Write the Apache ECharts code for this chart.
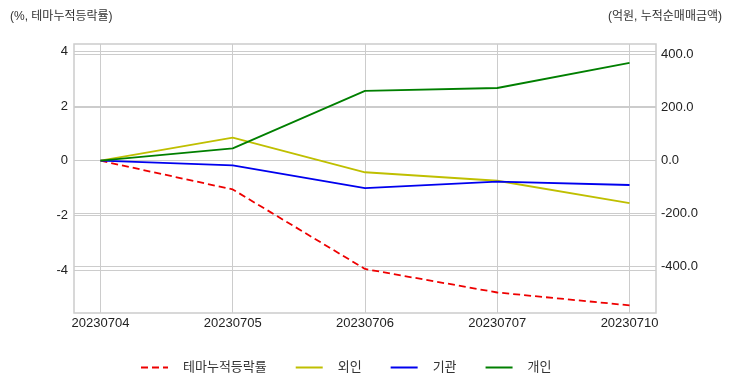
<!DOCTYPE html>
<html>
<head>
<meta charset="utf-8">
<script src="https://cdn.jsdelivr.net/npm/echarts@6/dist/echarts.min.js"></script>
<style>
html,body{margin:0;padding:0;background:#fff;}
#c{width:732px;height:392px;}
</style>
</head>
<body>
<div id="c"></div>
<script>
const dates = ['20230704', '20230705', '20230706', '20230707', '20230710'];
const themeRate = [0, -1.05, -3.96, -4.82, -5.29];
const foreign = [0, 87, -44, -76, -160];
const institution = [0, -18, -104, -79, -92];
const individual = [0, 46, 263, 274, 369];
const leftTicks = [-4, -2, 0, 2, 4];
const rightTicks = [-400, -200, 0, 200, 400];
const leftName = '(%, 테마누적등락률)';
const rightName = '(억원, 누적순매매금액)';

const FONT = '"Liberation Sans", "Noto Sans CJK KR", sans-serif';
const xIdx = dates.map((d, i) => i);
const pairs = arr => arr.map((v, i) => [i, v]);

const chart = echarts.init(document.getElementById('c'));
chart.setOption({
  animation: false,
  backgroundColor: '#fff',
  textStyle: { fontFamily: FONT },
  title: [
    { text: leftName, left: 5, top: 6, textStyle: { fontSize: 12, fontWeight: 'normal', color: '#333', fontFamily: FONT } },
    { text: rightName, right: 5, top: 6, textStyle: { fontSize: 12, fontWeight: 'normal', color: '#333', fontFamily: FONT } }
  ],
  grid: { left: 74, right: 76, top: 44, bottom: 79, show: true, borderColor: '#cccccc', borderWidth: 1.5, backgroundColor: 'transparent' },
  legend: {
    bottom: 13, left: 135, itemWidth: 27, itemHeight: 10, itemGap: 28,
    itemStyle: { opacity: 0 },
    textStyle: { fontSize: 13, color: '#333', fontFamily: FONT, padding: [0, 0, 0, 10] },
    data: ['테마누적등락률', '외인', '기관', '개인']
  },
  xAxis: {
    type: 'value', min: -0.2, max: 4.2,
    axisLine: { show: false },
    axisTick: { show: false, customValues: xIdx },
    axisLabel: { customValues: xIdx, formatter: v => dates[Math.round(v)], fontSize: 13, color: '#222', margin: 4, fontFamily: FONT },
    splitLine: { show: true, lineStyle: { color: '#cccccc', width: 1 } }
  },
  yAxis: [
    {
      type: 'value', min: -5.57, max: 4.27, position: 'left',
      axisLine: { show: false }, axisTick: { show: false, customValues: leftTicks },
      axisLabel: { customValues: leftTicks, fontSize: 13, color: '#222', margin: 6, fontFamily: FONT },
      splitLine: { show: true, lineStyle: { color: '#cccccc', width: 1 } }
    },
    {
      type: 'value', min: -575, max: 440, position: 'right',
      axisLine: { show: false }, axisTick: { show: false, customValues: rightTicks },
      axisLabel: { customValues: rightTicks, formatter: v => v.toFixed(1), fontSize: 13, color: '#222', margin: 5, fontFamily: FONT },
      splitLine: { show: true, lineStyle: { color: '#cccccc', width: 1 } }
    }
  ],
  series: [
    { name: '테마누적등락률', type: 'line', yAxisIndex: 0, data: pairs(themeRate), symbol: 'none', color: '#ee0000', lineStyle: { color: '#ee0000', width: 1.8, type: [7, 4] } },
    { name: '외인', type: 'line', yAxisIndex: 1, data: pairs(foreign), symbol: 'none', color: '#bfbf00', lineStyle: { color: '#bfbf00', width: 1.8 } },
    { name: '기관', type: 'line', yAxisIndex: 1, data: pairs(institution), symbol: 'none', color: '#0000ee', lineStyle: { color: '#0000ee', width: 1.8 } },
    { name: '개인', type: 'line', yAxisIndex: 1, data: pairs(individual), symbol: 'none', color: '#007f00', lineStyle: { color: '#007f00', width: 1.8 } }
  ]
});
</script>
</body>
</html>
